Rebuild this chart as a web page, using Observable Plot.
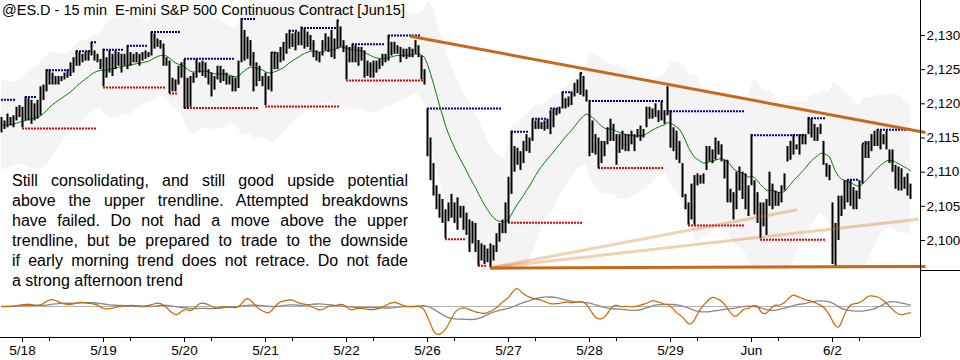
<!DOCTYPE html>
<html><head><meta charset="utf-8">
<script src="https://cdn.jsdelivr.net/npm/d3@7"></script>
<script src="https://cdn.jsdelivr.net/npm/@observablehq/plot@0.6"></script>
<style>
body{margin:0;background:#fff;}
#wrap{position:relative;width:960px;height:360px;overflow:hidden;font-family:"Liberation Sans",Arial,sans-serif;}
#wrap svg{position:absolute;left:0;display:block;}
#title{position:absolute;left:2px;top:0;font-size:14.5px;line-height:20px;white-space:pre;color:#000;}
#note{position:absolute;left:12px;top:171px;width:396px;font-size:16px;line-height:20px;color:#000;}
#note div{text-align:justify;text-align-last:justify;white-space:nowrap;}
#note div.last{text-align-last:left;}
#sep{position:absolute;left:920px;top:270px;width:40px;border-top:1px solid #000;}
</style></head><body><div id="wrap"></div>
<script>
// ---- data: 15-min bars (5/15 tail .. 6/2), highs and lows ----
const highs = [
2118,2117.5,2118.5,2118,2118.25,2119.5,2119.75,
2119.5,2121,2120.75,2120.5,2120,2120.5,2122.5,2122.75,2125,2125,2124.5,2124,2124,2124,2124.5,2125,2126,2126.75,2127.75,2127.5,2127.25,2127.5,2127.75,2129,2127.75,2127.25,2126.5,
2128,2126.75,2127.75,2127.25,2127.75,2127.5,2127.25,2127.25,2128.5,2127.5,2127.25,2127.5,2127.25,2127.5,2127.75,2127.5,2130.5,2130.25,2129.5,2129.25,2128.75,2126.75,2126.25,2123.75,2123.5,2125.5,2126,
2126.5,2123.75,2124,2124.5,2126.5,2126,2126.25,2126,2125,2124.5,2124,2125.5,2125.5,2125,2124.5,2124,2124,2123.75,2126.25,2132.5,2130.75,2129.75,2129.25,2127.5,2126,2125.5,2124,
2124.5,2124,2127.5,2127.5,2127.5,2128.25,2129,2130.25,2130.75,2130.25,2130.5,2130.5,2131.25,2131,2130.5,2130,2129.25,2127.75,2127.5,2129.25,2130.25,2129.75,2130.75,2129.5,2132.25,2131.25,2129.25,
2128.5,2128.25,2128.75,2128.5,2128.25,2128.25,2127.75,2126.25,2126,2126.25,2126.25,2126.5,2127.25,2127.25,2130,2129,2129,2128.5,2128.25,2128,2128,2128.25,2128,2129.25,2128.5,2127,2125,
2119.25,2115,2111.25,2108,2106.75,2106,2104.5,2105.5,2106.75,2105.5,2106.25,2105,2105,2104,2103,2102.75,2102.5,2100,2099.5,2099.25,2098.75,2099.5,2099.25,2101,2102.5,2103,2105.5,
2109.25,2116,2113.75,2113.5,2113,2114.5,2115.5,2115,2117.75,2117.5,2117.75,2117.25,2117.5,2117.75,2119,2119.25,2119.25,2119.5,2121.75,2120.75,2121,2121.75,2123,2123.5,2124.5,2124,2122,
2120.5,2117.5,2115.5,2115,2114.5,2114.5,2116.5,2117.75,2117,2115.5,2115.5,2116,2115.5,2115.5,2116,2115.5,2116.25,2116.75,2116.25,2119.5,2119.5,2119.25,2120,2119,2120.25,2119,2122.5,
2119,2116.5,2116,2114.5,2111.25,2106.75,2105.5,2108.25,2109.5,2109.75,2109.5,2109.75,2113.75,2113.75,2113.25,2115,2114.5,2114,2111.75,2111.75,2107.5,2107,2110,2110.75,2110,2109.75,2108,
2115.5,2108.75,2107,2105.5,2105.5,2106,2110,2108.25,2107.25,2107,2108,2109.75,2113.75,2114.5,2115.5,2114,2115.5,2115.5,2115.5,2118,2117.75,2117,2116.5,2117,2114.5,2111.25,2111,
2105.5,2102.5,2106.5,2106.5,2108.75,2108.75,2108.75,2107.75,2107.25,2108.75,2114,2114.5,2114.5,2115.5,2116,2116.25,2116,2115.5,2116,2113.25,2113.25,2111,2110.75,2110.5,2109.25,2109.75,2108.25
];
const lows = [
2115.75,2116.25,2116.5,2116.75,2116.5,2117.5,2118,
2116.5,2117.5,2117.5,2117,2117.5,2117.75,2118.25,2120.5,2121.75,2122.75,2122.75,2122.75,2122.75,2123.25,2123.5,2123.75,2124,2124.5,2125.5,2125.5,2126,2126.25,2126.25,2127,2126.25,2126,2125,
2122.5,2123.75,2124.5,2124,2125,2125.5,2124.5,2125.5,2125,2125.5,2126,2126,2125.5,2126.25,2126.5,2126.75,2127,2128,2128.25,2128,2125.5,2125.5,2121.5,2121.75,2121.75,2122.75,2123.75,
2119.25,2119.25,2119.5,2123,2123.75,2124.5,2124,2123.75,2122.75,2121,2122,2123.5,2123,2123.25,2122.75,2122.75,2121.75,2121.75,2122.25,2126,2126.25,2126.5,2125.5,2121.75,2122.5,2123.25,2122.5,
2119.75,2122,2121.75,2125,2125,2126,2126.25,2127.25,2128,2128.25,2127.75,2128.5,2128.5,2128,2128.25,2127.75,2126.75,2126.25,2126,2127,2127.75,2127.5,2126.75,2126.5,2128,2128.25,2127.5,
2123.5,2126,2126,2126,2125.5,2126.25,2123.75,2124,2123.75,2123.75,2124.5,2125,2125.5,2126,2126.25,2127,2127.25,2127.25,2126,2126.75,2126.5,2126.75,2126.75,2127.25,2126.75,2123.5,2122.75,
2112.25,2108.75,2106.5,2104.5,2103.25,2102.5,2100.25,2102.75,2103.25,2102.5,2101.5,2103.25,2101.5,2100.75,2098.25,2099.5,2098.25,2096.25,2097,2096.5,2096.75,2096,2097,2098.25,2099.75,2101,2101,
2102.5,2106.75,2110,2111,2110.25,2111.25,2113,2112.75,2114.5,2116.25,2116.25,2116.25,2116,2116.25,2115.5,2116.5,2118.25,2118.5,2119.25,2119.25,2119.5,2119.75,2121,2121.5,2121.25,2121,2120.25,
2112.25,2112.75,2112.5,2110.5,2111.25,2112.25,2114,2114.5,2114.5,2111,2112.75,2113.25,2113,2113,2114,2113,2115,2114.5,2115,2116.5,2117.75,2117.75,2118,2117.25,2117.5,2117,2118.25,
2113.5,2113,2111.75,2111.25,2106.25,2104.5,2102.25,2103,2102.25,2108,2108.25,2108.25,2110.25,2111.5,2111.25,2111.75,2112.5,2111.5,2109,2105.5,2105.5,2103,2104.5,2107.25,2106,2104.5,2103.5,
2108,2103.75,2102.5,2100.25,2102,2100.75,2105,2104.5,2105,2105,2105.5,2107.25,2111.5,2111.75,2112.5,2113.25,2112.5,2114,2114,2115.5,2115,2114.5,2114.5,2115.5,2111,2109.25,2108.75,
2096.5,2096.25,2100,2103.5,2104.5,2105.5,2105,2104.5,2104.5,2106,2108.25,2112,2112,2113,2113.75,2113.75,2113.25,2114,2113.25,2111.25,2110,2107.5,2107.25,2107.25,2107.5,2106.5,2106
];
// session starts (bar index) and their labels
const dayStarts = [7,34,61,88,115,142,169,196,223,250,277];
const dayLabels = ["5/18","5/19","5/20","5/21","5/22","5/26","5/27","5/28","5/29","Jun","6/2"];
const minorTicks = [16,43,70,97,124,151,178,205,232,259,286];
const priceTicks = [2100,2105,2110,2115,2120,2125,2130];
// resistance (blue dotted) levels: start bar, end bar, price
const resStart = [0,8,15,25,30,34,42,50,61,80,90,96,100,112,117,129,142,170,177,183,187,193,196,222,250,269,282,287,292];
const resEnd   = [5,12,23,30,32,41,49,60,78,85,92,99,112,113,128,140,167,176,182,186,190,194,221,248,268,275,286,289,302];
const resPrice = [2120.6,2121,2124.9,2127.7,2129,2127.9,2128.5,2130.5,2126.6,2132.4,2127.5,2130.7,2131.1,2132.2,2128.7,2130,2119.3,2115.9,2117.8,2119.3,2121.7,2124.5,2120.4,2118.9,2115.4,2117.9,2108.9,2114.2,2116.2];
// support (red dotted) levels
const supStart = [7,34,56,61,88,115,148,159,163,169,199,229,253,277];
const supEnd   = [32,55,59,86,113,141,155,162,167,194,221,248,275,302];
const supPrice = [2116.4,2122.4,2121.5,2119.4,2119.6,2123.4,2100.2,2096.3,2096,2102.6,2110.6,2102.2,2100.1,2096.2];
// trendlines: bar index / price at both ends
const trendX1 = [136.3,163], trendP1 = [2129.9,2095.95], trendX2 = [308,308], trendP2 = [2115.8,2096.2];
const fanX1 = [163,163], fanP1 = [2096,2096], fanX2 = [265.2,305.7], fanP2 = [2104.5,2103.1];
const noteLines = [
 "Still consolidating, and still good upside potential",
 "above the upper trendline. Attempted breakdowns",
 "have failed. Do not had a move above the upper",
 "trendline, but be prepared to trade to the downside",
 "if early morning trend does not retrace. Do not fade",
 "a strong afternoon trend"
];
const titleText = "@ES.D - 15 min  E-mini S&P 500 Continuous Contract [Jun15]";

// ---- derived indicators (20 EMA, Keltner channel, 3-10 oscillator with 16 signal) ----
const bars = highs.map((h,i)=>({i, h, l: lows[i], m: (h+lows[i])/2}));
{
  const k = 2/21; let e = bars[0].m, a = bars[0].h - bars[0].l, prev = bars[0].m;
  bars.forEach((b,i)=>{
    const tr = Math.max(b.h-b.l, Math.abs(b.h-prev), Math.abs(b.l-prev));
    if (i>0){ e += k*(b.m-e); a += k*(tr-a); }
    b.ema = e; b.up = e + 3*a; b.lo = e - 3*a; prev = b.m;
  });
  const mids = bars.map(b=>b.m);
  const sma = (arr,n,i)=>d3.mean(arr.slice(Math.max(0,i-n+1), i+1));
  const osc = mids.map((_,i)=>sma(mids,3,i)-sma(mids,10,i));
  const sig = osc.map((_,i)=>sma(osc,16,i));
  bars.forEach((b,i)=>{b.osc=osc[i]; b.sig=sig[i];});
}
const res = resStart.map((s,j)=>({a:s, b:resEnd[j], p:resPrice[j]}));
const sup = supStart.map((s,j)=>({a:s, b:supEnd[j], p:supPrice[j]}));
const trends = trendX1.map((x,j)=>({x1:x, y1:trendP1[j], x2:trendX2[j], y2:trendP2[j]}));
const fans = fanX1.map((x,j)=>({x1:x, y1:fanP1[j], x2:fanX2[j], y2:fanP2[j]}));

const xDomain = [-1/3, 306 + 1/3];
const font = {fontFamily: '"Liberation Sans", Arial, sans-serif', fontSize: "13.5px", background: "transparent", overflow: "visible"};

const price = Plot.plot({
  width: 960, height: 270, marginLeft: 0, marginRight: 40, marginTop: 0, marginBottom: 0,
  style: font,
  x: {domain: xDomain, axis: null, label: null},
  y: {domain: [2095.61, 2135.12], label: null},
  marks: [
    Plot.areaY(bars, {x: "i", y1: "lo", y2: "up", fill: "#f4f4f4", curve: "basis", clip: true}),
    Plot.ruleY(res, {y: "p", x1: "a", x2: "b", stroke: "#0000a0", strokeWidth: 2, strokeDasharray: "2,1"}),
    Plot.ruleY(sup, {y: "p", x1: "a", x2: "b", stroke: "#e80000", strokeWidth: 2, strokeDasharray: "2,1"}),
    Plot.line(bars, {x: "i", y: "ema", stroke: "#008000", strokeWidth: 1, clip: true}),
    Plot.ruleX(bars, {x: "i", y1: "l", y2: "h", stroke: "#000", strokeWidth: 2}),
    Plot.link(fans, {x1: "x1", y1: "y1", x2: "x2", y2: "y2", stroke: "#cc6600", strokeOpacity: 0.3, strokeWidth: 3}),
    Plot.link(trends, {x1: "x1", y1: "y1", x2: "x2", y2: "y2", stroke: "#c8681a", strokeWidth: 3}),
    Plot.ruleX([xDomain[1]], {stroke: "#000"}),
    Plot.axisY(priceTicks, {anchor: "right", tickFormat: d3.format(","), tickSize: 4, tickPadding: 2, label: null})
  ]
});

const oMin = d3.min(bars, b=>b.osc);
const pxPer = 28 / -oMin;
const oscDomain = [-31/pxPer, 36/pxPer];
const oscPlot = Plot.plot({
  width: 960, height: 90, marginLeft: 0, marginRight: 40, marginTop: 0, marginBottom: 23,
  style: font,
  x: {domain: xDomain, label: null},
  y: {domain: oscDomain, axis: null, label: null},
  marks: [
    Plot.ruleY([0], {x1: 0, x2: bars.length-1, stroke: "#b4b4b4"}),
    Plot.line(bars, {x: "i", y: "sig", stroke: "#888", strokeWidth: 1.3, curve: "basis"}),
    Plot.line(bars, {x: "i", y: "osc", stroke: "#cc6600", strokeWidth: 1.2, curve: "basis"}),
    Plot.ruleY([oscDomain[0]], {stroke: "#000"}),
    Plot.ruleX([xDomain[1]], {stroke: "#000"}),
    Plot.axisX(dayStarts, {anchor: "bottom", tickFormat: d => dayLabels[dayStarts.indexOf(d)], tickSize: 5, tickPadding: 3, label: null}),
    Plot.axisX(minorTicks, {anchor: "bottom", tickFormat: () => "", tickSize: 4, label: null})
  ]
});

const wrap = document.getElementById("wrap");
price.style.top = "0px";
oscPlot.style.top = "270px";
wrap.appendChild(price);
wrap.appendChild(oscPlot);
const sep = document.createElement("div"); sep.id = "sep"; wrap.appendChild(sep);
const t = document.createElement("div"); t.id = "title"; t.textContent = titleText; wrap.appendChild(t);
const note = document.createElement("div"); note.id = "note";
noteLines.forEach((s,j)=>{ const d = document.createElement("div"); d.textContent = s; if (j===noteLines.length-1) d.className = "last"; note.appendChild(d); });
wrap.appendChild(note);
</script></body></html>
